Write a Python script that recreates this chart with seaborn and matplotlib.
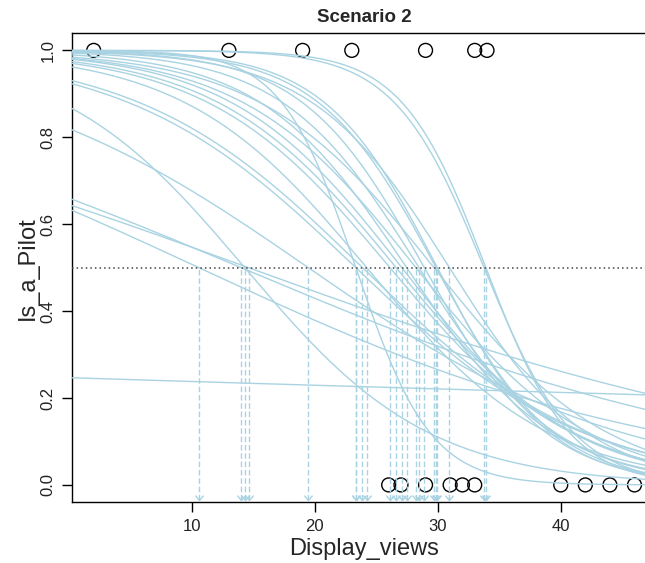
import numpy as np
import pandas as pd
import matplotlib
matplotlib.use("Agg")
import matplotlib.pyplot as plt
import seaborn as sns
from matplotlib.path import Path

# Observed outcomes: display views of pilots (1) and non-pilots (0)
views_pilot = [2, 13, 19, 23, 29, 33, 34]
views_nonpilot = [26, 27, 29, 31, 32, 33, 40, 42, 44, 46]

# Bootstrap logistic fits: logit(p) = intercept + slope * views
intercepts = [-1.116, 1.900, 0.663, 0.597, 0.553, 1.516, 2.512, 2.618, 3.259,
              3.511, 3.664, 3.892, 4.595, 3.999, 5.110, 5.806, 4.180, 6.213,
              6.500, 5.517, 9.210, 9.900, 7.700]
slopes = [-0.0048, -0.133, -0.0474, -0.0409, -0.0524, -0.0779, -0.1077, -0.1097,
          -0.1346, -0.1345, -0.1377, -0.1438, -0.1673, -0.1417, -0.1795, -0.2009,
          -0.1408, -0.2081, -0.2170, -0.1783, -0.2728, -0.2920, -0.3300]

x_ticks = [10, 20, 30, 40]
y_ticks = [0.0, 0.2, 0.4, 0.6, 0.8, 1.0]
y_tick_labels = ["0.0", "0.2", "0.4", "0.6", "0.8", "1.0"]
threshold = 0.5

sns.set_style("white")
plt.rcParams["font.family"] = ["Liberation Sans", "DejaVu Sans"]

W, H = 645, 563
fig = plt.figure(figsize=(W / 100, H / 100), dpi=100)
left, right, top, bottom = 72.3, 656.0, 33.0, 502.3
ax = fig.add_axes([left / W, (H - bottom) / H, (right - left) / W, (bottom - top) / H])

xmin, xmax = 0.26, 47.75
ax.set_xlim(xmin, xmax)
ax.set_ylim(-0.04, 1.04)

curve_col = "#A9D3E2"

# observed points
pts = pd.DataFrame({
    "Display_views": views_pilot + views_nonpilot,
    "Is_a_Pilot": [1] * len(views_pilot) + [0] * len(views_nonpilot),
})
sns.scatterplot(data=pts, x="Display_views", y="Is_a_Pilot", ax=ax, s=100,
                facecolors="none", edgecolor="black", linewidth=1.0,
                zorder=2, legend=False)

# fitted curves
grid = np.linspace(0, 48, 500)
rows = []
for i, (a, b) in enumerate(zip(intercepts, slopes)):
    p = 1.0 / (1.0 + np.exp(-(a + b * grid)))
    rows.append(pd.DataFrame({"fit": i, "Display_views": grid, "prob": p}))
curves = pd.concat(rows, ignore_index=True)
sns.lineplot(data=curves, x="Display_views", y="prob", units="fit",
             estimator=None, color=curve_col, linewidth=1.0, ax=ax,
             legend=False, zorder=3)

# 50% threshold
ax.axhline(threshold, color="#444444", linestyle=(0, (1, 2.0)), linewidth=1.1, zorder=4)

# crossing points of each fit, dropped to the axis
arrow_head = Path([(-1, 1.2), (0, 0), (1, 1.2)], [Path.MOVETO, Path.LINETO, Path.LINETO])
tip = -0.035
for a, b in zip(intercepts, slopes):
    x50 = -a / b
    if xmin < x50 < xmax:
        ax.vlines(x50, tip, threshold, colors=curve_col, linestyles=(0, (4, 2)),
                  linewidth=1.0, zorder=3)
        ax.plot([x50], [tip], marker=arrow_head, markersize=7, mfc="none",
                mec=curve_col, mew=1.0, linestyle="none", zorder=3)

ax.set_xticks(x_ticks)
ax.set_xticklabels([str(t) for t in x_ticks])
ax.set_yticks(y_ticks)
ax.set_yticklabels(y_tick_labels, rotation=90, va="center")
ax.tick_params(axis="both", direction="out", length=7, width=1.0, color="black",
               labelsize=12, labelcolor="#222222", pad=5)
ax.tick_params(axis="x", bottom=True)
ax.tick_params(axis="y", left=True)
for s in ax.spines.values():
    s.set_color("black")
    s.set_linewidth(1.0)
ax.set_xlabel("")
ax.set_ylabel("")

fig.text((left + right) / 2 / W, 1 - 17 / H, "Scenario 2", ha="center", va="center",
         fontsize=13.5, fontweight="bold")
fig.text((left + right) / 2 / W, 1 - 549 / H, "Display_views", ha="center",
         va="center", fontsize=17)
fig.text(28 / W, 1 - (top + bottom) / 2 / H, "Is_a_Pilot", ha="center", va="center",
         rotation=90, fontsize=17)

fig.savefig("out.png", dpi=100)
